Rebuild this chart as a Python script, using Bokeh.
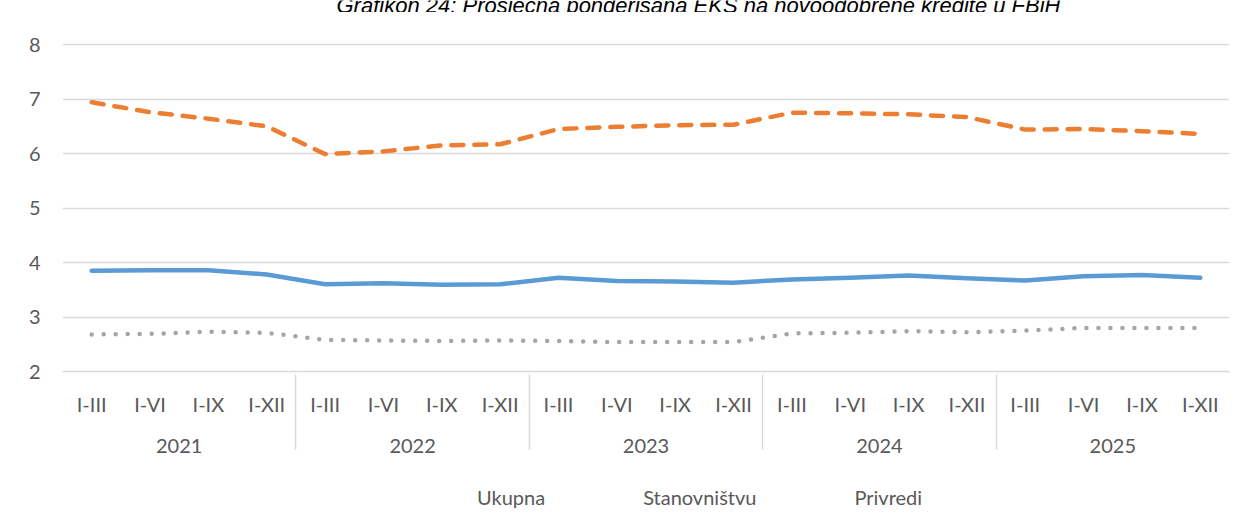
from bokeh.plotting import figure
from bokeh.layouts import column
from bokeh.models import (FactorRange, Legend, LegendItem, Label, Range1d,
                          FixedTicker, ColumnDataSource)
from bokeh.embed import file_html
from bokeh.resources import INLINE

# ---- data ----
years = ["2021", "2022", "2023", "2024", "2025"]
quarters = ["I-III", "I-VI", "I-IX", "I-XII"]
ukupna = [3.85, 3.86, 3.86, 3.78, 3.60, 3.62, 3.59, 3.60, 3.72, 3.66,
          3.65, 3.63, 3.69, 3.72, 3.76, 3.71, 3.67, 3.75, 3.77, 3.72]
stanovnistvu = [6.94, 6.76, 6.64, 6.50, 5.99, 6.04, 6.15, 6.17, 6.45, 6.49,
                6.52, 6.53, 6.75, 6.74, 6.72, 6.67, 6.44, 6.45, 6.41, 6.36]
privredi = [2.68, 2.69, 2.73, 2.71, 2.58, 2.57, 2.56, 2.57, 2.56, 2.54,
            2.54, 2.54, 2.70, 2.71, 2.74, 2.72, 2.75, 2.80, 2.80, 2.80]
series_names = ["Ukupna", "Stanovništvu", "Privredi"]
y_ticks = [2, 3, 4, 5, 6, 7, 8]
title_text = "Grafikon 24: Prosječna ponderisana EKS na novoodobrene kredite u FBiH"

factors = [(y, q) for y in years for q in quarters]
src = ColumnDataSource(dict(x=factors, u=ukupna, s=stanovnistvu, p=privredi))

FONT = "Lato"
TXT = "#595959"
GRID = "#d9d9d9"
W = 1240
styles = [
    dict(line_color="#5b9bd5", line_width=4.5, line_cap="round", line_join="round"),
    dict(line_color="#ed7d31", line_width=4.5, line_cap="round", line_join="round", line_dash="12 11"),
    dict(line_color="#a5a5a5", line_width=4.5, line_cap="round", line_join="round", line_dash="0 12"),
]

# ---- title strip (mostly cut off, as in the reference) ----
t = figure(width=W, height=12, output_backend="svg", toolbar_location=None,
           x_axis_type=None, y_axis_type=None, x_range=(0, 1), y_range=(0, 1),
           min_border=0)
t.outline_line_color = None
t.grid.visible = False
t.add_layout(Label(x=636, y=7, x_units="screen", y_units="screen", text=title_text,
                   text_align="center", text_baseline="alphabetic",
                   text_font="Liberation Sans", text_font_style="italic",
                   text_font_size="22px", text_color="#000000"))

# ---- main chart ----
p = figure(width=W, height=459, output_backend="svg", toolbar_location=None,
           x_range=FactorRange(*factors, group_padding=0, factor_padding=0, range_padding=0),
           y_range=Range1d(2, 8.02),
           min_border_left=62, min_border_right=11, min_border_top=31, min_border_bottom=100)
p.outline_line_color = None
p.background_fill_color = "white"
p.border_fill_color = "white"

p.yaxis.ticker = FixedTicker(ticks=y_ticks)
p.yaxis.axis_line_color = None
p.yaxis.major_tick_line_color = None
p.yaxis.major_tick_out = 0
p.yaxis.minor_tick_line_color = None
p.yaxis.major_label_standoff = 22
p.yaxis.major_label_text_font = FONT
p.yaxis.major_label_text_font_size = "20px"
p.yaxis.major_label_text_color = TXT
p.ygrid.grid_line_color = GRID
p.ygrid.grid_line_width = 1.5
p.xgrid.grid_line_color = None

xa = p.xaxis[0]
xa.axis_line_color = GRID
xa.axis_line_width = 1.5
xa.major_tick_line_color = None
xa.major_tick_out = 0
xa.minor_tick_line_color = None
xa.major_label_standoff = 20
xa.major_label_text_font = FONT
xa.major_label_text_font_size = "20px"
xa.major_label_text_color = TXT
xa.group_text_font = FONT
xa.group_text_font_size = "20px"
xa.group_text_color = TXT
xa.group_text_font_style = "normal"
xa.separator_line_color = GRID
xa.separator_line_width = 1.5

p.line("x", "u", source=src, **styles[0])
p.line("x", "s", source=src, **styles[1])
p.line("x", "p", source=src, **styles[2])

# ---- legend strip ----
lg = figure(width=W, height=50, output_backend="svg", toolbar_location=None,
            x_axis_type=None, y_axis_type=None, x_range=(0, 1), y_range=(0, 1),
            min_border=0)
lg.outline_line_color = None
lg.grid.visible = False
leg_renderers = [lg.line(x=[], y=[], **st) for st in styles]
legend = Legend(items=[LegendItem(label=n, renderers=[r]) for n, r in zip(series_names, leg_renderers)],
                orientation="horizontal", location=(349, 12),
                label_text_font=FONT, label_text_font_size="20px", label_text_color=TXT,
                glyph_width=60, glyph_height=20, spacing=32, label_standoff=6,
                padding=0, margin=0, border_line_alpha=0, background_fill_alpha=0)
lg.add_layout(legend)

layout = column(t, p, lg, spacing=0)
open("out.html", "w").write(file_html(layout, INLINE))
